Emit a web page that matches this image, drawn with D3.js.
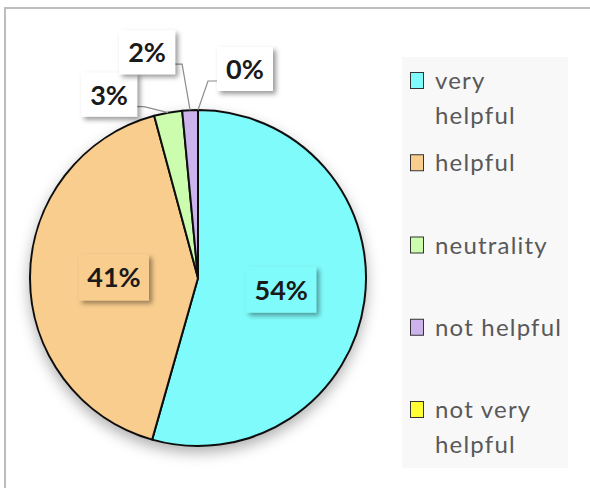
<!DOCTYPE html>
<html>
<head>
<meta charset="utf-8">
<script src="https://cdn.jsdelivr.net/npm/d3@7"></script>
<style>
  html, body { margin: 0; padding: 0; background: #ffffff; }
  svg { display: block; }
</style>
</head>
<body>
<svg id="chart" width="590" height="488"></svg>
<script>
// ---- data ----
const categories = ["very helpful", "helpful", "neutrality", "not helpful", "not very helpful"];
const legendLines = [["very", "helpful"], ["helpful"], ["neutrality"], ["not helpful"], ["not very", "helpful"]];
const values = [54.4, 41.4, 2.7, 1.5, 0.0];
const labels = ["54%", "41%", "3%", "2%", "0%"];
const colors = ["#80FBFB", "#F9CD8E", "#CCFDAE", "#CDB3EC", "#FFFF33"];

// ---- layout ----
const cx = 198, cy = 278, R = 168;
const svg = d3.select("#chart");
const defs = svg.append("defs");

const pieShadow = defs.append("filter").attr("id", "pieShadow")
  .attr("x", "-20%").attr("y", "-20%").attr("width", "140%").attr("height", "140%");
pieShadow.append("feDropShadow").attr("dx", 0).attr("dy", 6).attr("stdDeviation", 7)
  .attr("flood-color", "#000").attr("flood-opacity", 0.3);

const boxShadow = defs.append("filter").attr("id", "boxShadow")
  .attr("x", "-30%").attr("y", "-30%").attr("width", "160%").attr("height", "160%");
boxShadow.append("feDropShadow").attr("dx", 3).attr("dy", 3).attr("stdDeviation", 2.5)
  .attr("flood-color", "#000").attr("flood-opacity", 0.4);

// chart area border
svg.append("rect").attr("x", 5).attr("y", 8).attr("width", 620).attr("height", 520)
  .attr("fill", "#fff").attr("stroke", "#bdbdbd").attr("stroke-width", 2);

const pie = d3.pie().sort(null).value(d => d)(values);
const arc = d3.arc().innerRadius(0).outerRadius(R);
const color = d3.scaleOrdinal().domain(categories).range(colors);

const g = svg.append("g").attr("transform", `translate(${cx},${cy})`);
g.append("g").attr("filter", "url(#pieShadow)")
  .selectAll("path").data(pie).join("path")
  .attr("d", arc)
  .attr("fill", (d, i) => color(categories[i]))
  .attr("stroke", "#111")
  .attr("stroke-width", 2)
  .attr("stroke-linejoin", "round");

const labelFont = "Lato, 'Open Sans', sans-serif";

// inside labels for big slices
pie.forEach((d, i) => {
  if (values[i] < 10) return;
  const [x, y] = arc.centroid(d);
  const lg = g.append("g").attr("transform", `translate(${x},${y})`);
  const bw = 70, bh = 46;
  lg.append("rect").attr("x", -bw / 2).attr("y", -bh / 2).attr("width", bw).attr("height", bh)
    .attr("fill", color(categories[i])).attr("filter", "url(#boxShadow)");
  lg.append("text").attr("text-anchor", "middle").attr("y", 10)
    .attr("font-family", labelFont).attr("font-weight", 700).attr("font-size", 27)
    .attr("fill", "#1a1a1a").text(labels[i]);
});

// outside labels for small slices (offsets from slice's outer mid point)
const outerOffsets = { 2: [-59, -18], 3: [-43, -58], 4: [47, -41] };
const outerArc = d3.arc().innerRadius(R).outerRadius(R);
const leaderG = g.append("g");
const outerG = g.append("g");
pie.forEach((d, i) => {
  if (values[i] >= 10) return;
  const [ax, ay] = outerArc.centroid(d);
  const [ox, oy] = outerOffsets[i];
  const bx = ax + ox, by = ay + oy;
  const bw = 56, bh = 44;
  const leftSide = bx < ax;
  const sx = leftSide ? bx + bw / 2 : bx - bw / 2;
  const sy = Math.min(by + 12, ay - 2);
  const ex = leftSide ? sx + 7 : sx - 9;
  leaderG.append("polyline")
    .attr("points", [[sx, sy], [ex, sy], [ax, ay]].map(p => p.join(",")).join(" "))
    .attr("fill", "none").attr("stroke", "#8c8c8c").attr("stroke-width", 1.2);
  const lg = outerG.append("g").attr("transform", `translate(${bx},${by})`);
  lg.append("rect").attr("x", -bw / 2).attr("y", -bh / 2).attr("width", bw).attr("height", bh)
    .attr("fill", "#fff").attr("filter", "url(#boxShadow)");
  lg.append("text").attr("text-anchor", "middle").attr("y", 10)
    .attr("font-family", labelFont).attr("font-weight", 700).attr("font-size", 27)
    .attr("fill", "#1a1a1a").text(labels[i]);
});

// legend
const legend = svg.append("g");
legend.append("rect").attr("x", 402).attr("y", 57).attr("width", 166).attr("height", 411)
  .attr("fill", "#f8f8f8");
const ly = d3.scalePoint().domain(categories).range([89, 418]);
categories.forEach((c, i) => {
  const y = ly(c);
  legend.append("rect").attr("x", 410.5).attr("y", y - 16.5).attr("width", 13).attr("height", 16)
    .attr("fill", color(c)).attr("stroke", "#333").attr("stroke-width", 1);
  const t = legend.append("text").attr("x", 435).attr("y", y)
    .attr("font-family", labelFont).attr("font-size", 24).attr("letter-spacing", 1.2)
    .attr("fill", "#595959");
  legendLines[i].forEach((line, j) => {
    t.append("tspan").attr("x", 435).attr("dy", j === 0 ? 0 : 35).text(line);
  });
});
</script>
</body>
</html>
